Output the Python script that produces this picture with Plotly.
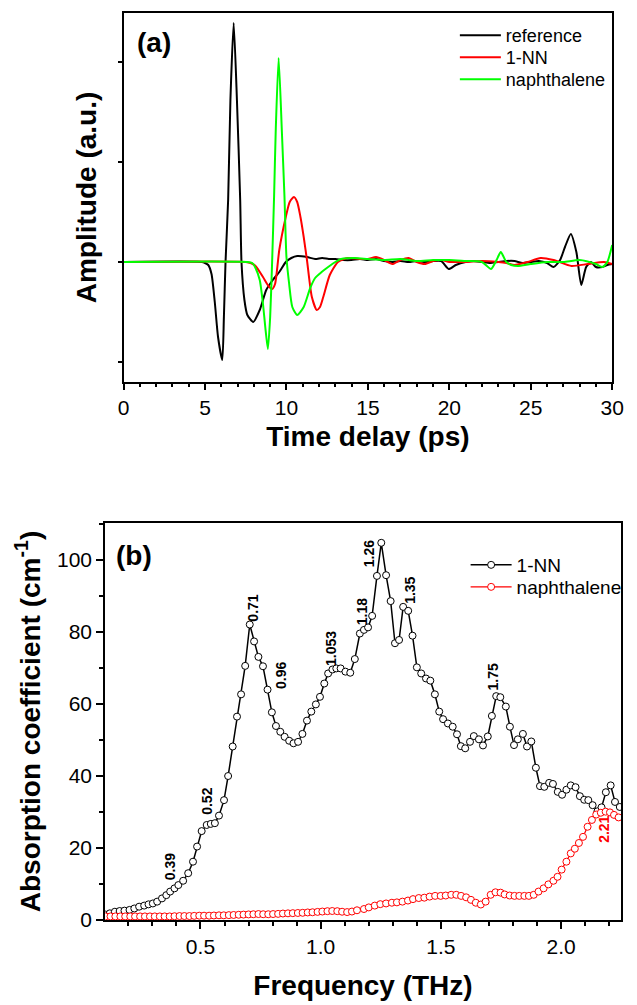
import plotly.graph_objects as go

# ---------------- Panel (a): time-domain waveforms ----------------
T_REF = [0, 4.8, 5.0, 5.2, 5.4, 5.6, 5.8, 6.06, 6.16, 6.26, 6.42, 6.56, 6.76, 6.96, 7.16, 7.24,
         7.42, 7.6, 7.96, 8.36, 8.76, 9.16, 9.56, 9.96, 10.3, 10.66, 11.26, 11.76, 12.2, 12.6,
         13.0, 13.5, 14.0, 14.5, 15.0, 15.5, 16.0, 16.5, 17.0, 17.5, 18.0, 18.5, 19.0, 19.5,
         19.96, 20.4, 21.0, 21.5, 22.0, 22.5, 23.0, 23.5, 24.0, 24.5, 25.0, 25.5, 26.0, 26.4,
         26.8, 27.1, 27.46, 27.8, 28.1, 28.4, 28.7, 29.0, 29.4, 29.7, 30.0]
A_REF = [0, 0, -0.01, -0.03, -0.12, -0.4, -0.75, -0.98, -0.55, 0.0, 0.62, 1.62, 2.39, 1.62, 0.62, 0.0,
         -0.38, -0.53, -0.6, -0.48, -0.28, -0.18, -0.1, 0.0, 0.04, 0.06, 0.05, 0.03, 0.04, 0.03,
         0.03, 0.02, 0.02, 0.03, 0.02, 0.03, 0.01, 0.0, 0.01, 0.0, 0.01, 0.0, 0.01, 0.01,
         -0.07, -0.03, 0.0, 0.01, 0.0, -0.01, 0.0, 0.01, 0.01, -0.01, 0.0, 0.01, -0.01, -0.05,
         0.02, 0.15, 0.28, 0.1, -0.23, -0.05, 0.0, -0.05, -0.05, -0.03, -0.02]

T_NN = [0, 7.5, 7.8, 8.1, 8.56, 8.9, 9.12, 9.3, 9.56, 9.96, 10.2, 10.46, 10.66, 10.86, 11.06,
        11.26, 11.56, 11.86, 12.06, 12.26, 12.66, 13.16, 13.76, 14.5, 15.0, 15.5, 16.0, 16.5,
        17.0, 17.5, 18.0, 18.5, 19.0, 19.5, 20.0, 20.5, 21.0, 22.0, 23.0, 23.5, 24.0, 24.8,
        25.6, 26.4, 27.5, 28.5, 29.5, 30.0]
A_NN = [0, 0, -0.01, -0.04, -0.15, -0.24, -0.27, -0.22, 0.12, 0.45, 0.6, 0.65, 0.6, 0.45, 0.25,
        0.02, -0.35, -0.48, -0.45, -0.35, -0.13, 0.0, 0.04, 0.03, 0.03, 0.05, 0.02, -0.02,
        0.02, 0.04, 0.0, -0.02, 0.01, 0.02, 0.0, 0.0, 0.0, 0.01, 0.0, -0.01, -0.03, 0.0,
        0.04, 0.02, -0.04, -0.02, 0.0, -0.02]

T_NAP = [0, 7.6, 7.9, 8.1, 8.36, 8.56, 8.7, 8.86, 9.0, 9.12, 9.24, 9.34, 9.52, 9.72, 9.88, 10.0,
         10.16, 10.36, 10.66, 11.06, 11.46, 11.76, 12.16, 12.56, 13.0, 13.36, 14.2, 15.0, 16.0,
         17.0, 18.0, 19.0, 20.0, 21.0, 22.0, 22.56, 22.9, 23.16, 23.5, 23.8, 24.2, 25.0, 26.0,
         27.0, 28.0, 29.0, 29.4, 29.7, 30.0]
A_NAP = [0, 0, -0.01, -0.06, -0.18, -0.42, -0.65, -0.87, -0.55, 0.0, 0.65, 1.3, 2.04, 1.3, 0.65, 0.05,
         -0.21, -0.45, -0.53, -0.45, -0.26, -0.16, -0.1, -0.05, 0.0, 0.03, 0.04, 0.03, 0.02,
         0.03, 0.01, 0.02, 0.02, 0.01, 0.0, -0.07, 0.02, 0.1, 0.0, -0.03, -0.04, -0.02, 0.0,
         0.0, 0.02, -0.02, -0.05, 0.0, 0.17]

# ---------------- Panel (b): absorption spectra ----------------
F_NN = [0.105, 0.123, 0.144, 0.164, 0.184, 0.205, 0.225, 0.245, 0.266, 0.284, 0.302, 0.320,
        0.340, 0.358, 0.374, 0.392, 0.408, 0.428, 0.449, 0.469, 0.486, 0.505, 0.526, 0.543,
        0.560, 0.577, 0.598, 0.615, 0.634, 0.652, 0.669, 0.686, 0.705, 0.723, 0.741, 0.760,
        0.779, 0.797, 0.814, 0.832, 0.850, 0.869, 0.887, 0.906, 0.924, 0.943, 0.961, 0.980,
        0.997, 1.015, 1.031, 1.049, 1.065, 1.083, 1.103, 1.123, 1.142, 1.163, 1.180, 1.197,
        1.214, 1.234, 1.252, 1.272, 1.291, 1.309, 1.326, 1.343, 1.364, 1.382, 1.400, 1.418,
        1.438, 1.456, 1.475, 1.493, 1.509, 1.529, 1.549, 1.567, 1.583, 1.601, 1.621, 1.637,
        1.658, 1.675, 1.695, 1.712, 1.730, 1.747, 1.770, 1.787, 1.804, 1.820, 1.841, 1.858,
        1.876, 1.895, 1.912, 1.930, 1.950, 1.966, 1.986, 2.004, 2.022, 2.040, 2.060, 2.078,
        2.096, 2.113, 2.131, 2.151, 2.168, 2.186, 2.206, 2.224, 2.244]
ALPHA_NN = [1.5, 1.85, 2.3, 2.5, 2.6, 2.8, 3.2, 3.7, 4.0, 4.35, 4.6, 5.1,
            6.0, 6.9, 7.9, 8.8, 9.7, 10.9, 13.0, 16.2, 20.4, 24.7, 26.4, 26.7,
            26.9, 29.0, 33.3, 40.0, 48.2, 56.5, 62.7, 70.6, 82.1, 77.4, 73.1, 70.5,
            64.0, 57.7, 53.9, 52.3, 50.9, 49.8, 49.1, 49.5, 51.7, 55.4, 57.9, 59.9,
            62.0, 65.7, 68.5, 69.6, 69.9, 69.9, 69.0, 68.7, 72.5, 79.6, 80.6, 81.3,
            84.5, 95.6, 104.8, 95.8, 88.6, 76.9, 77.8, 87.0, 85.9, 79.0, 70.2, 68.5,
            67.1, 66.5, 62.7, 57.9, 55.8, 54.6, 53.7, 51.6, 48.3, 47.7, 49.5, 51.1,
            50.2, 48.5, 51.0, 56.7, 62.2, 61.9, 59.3, 53.7, 48.6, 50.2, 51.7, 48.2,
            49.6, 42.3, 37.2, 37.0, 38.1, 37.8, 35.6, 34.8, 36.2, 37.4, 36.9, 34.4,
            33.4, 33.3, 31.9, 30.2, 31.3, 35.5, 37.4, 32.8, 31.4]

F_NAP = [0.105, 0.126, 0.146, 0.167, 0.187, 0.208, 0.228, 0.249, 0.269, 0.290, 0.310, 0.331,
         0.351, 0.372, 0.392, 0.413, 0.433, 0.454, 0.474, 0.495, 0.515, 0.536, 0.556, 0.577,
         0.597, 0.618, 0.638, 0.659, 0.679, 0.700, 0.720, 0.741, 0.761, 0.782, 0.802, 0.823,
         0.843, 0.864, 0.884, 0.905, 0.925, 0.946, 0.966, 0.987, 1.007, 1.028, 1.048, 1.069,
         1.089, 1.110, 1.130, 1.151,
         1.180, 1.200, 1.225, 1.248, 1.272, 1.296, 1.317, 1.340, 1.363, 1.384, 1.408, 1.431,
         1.453, 1.476, 1.499, 1.520, 1.543, 1.564, 1.584, 1.605, 1.625, 1.645, 1.666, 1.686,
         1.707, 1.727, 1.748, 1.765, 1.786, 1.806, 1.826, 1.847, 1.866, 1.886, 1.906, 1.927,
         1.947, 1.968, 1.985, 2.002, 2.022, 2.040, 2.057, 2.074, 2.091, 2.110, 2.128, 2.146,
         2.165, 2.185, 2.203, 2.220, 2.239]
ALPHA_NAP = [1.0, 1.0, 1.0, 1.0, 1.0, 1.0, 1.0, 1.0, 1.0, 1.0, 1.0, 1.0,
             1.0, 1.0, 1.05, 1.1, 1.1, 1.1, 1.15, 1.2, 1.2, 1.2, 1.25, 1.3,
             1.3, 1.35, 1.4, 1.45, 1.5, 1.55, 1.6, 1.65, 1.6, 1.6, 1.65, 1.7,
             1.8, 1.85, 1.9, 1.95, 2.0, 2.1, 2.15, 2.25, 2.35, 2.45, 2.5, 2.45,
             2.3, 2.2, 2.35, 2.7,
             3.05, 3.5, 4.0, 4.4, 4.6, 4.8, 4.9, 5.1, 5.4, 5.8, 6.1, 6.2,
             6.5, 6.7, 6.7, 6.8, 7.0, 7.0, 6.7, 6.3, 5.6, 4.8, 4.3, 5.1,
             7.0, 7.7, 7.6, 7.1, 6.8, 6.7, 6.7, 6.7, 6.7, 7.0, 7.9, 8.8,
             9.9, 10.9, 12.0, 14.0, 16.2, 18.5, 19.8, 21.4, 23.1, 25.9, 27.8, 29.3,
             29.8, 30.1, 29.9, 29.2, 28.5]

assert len(T_REF) == len(A_REF) and len(T_NN) == len(A_NN) and len(T_NAP) == len(A_NAP)
assert len(F_NN) == len(ALPHA_NN) and len(F_NAP) == len(ALPHA_NAP)

PEAK_TEXT = ["0.39", "0.52", "0.71", "0.96", "1.053", "1.18", "1.26", "1.35", "1.75", "2.21"]
PEAK_F = [0.374, 0.527, 0.72, 0.835, 1.042, 1.173, 1.202, 1.371, 1.717, 2.178]
PEAK_A = [14.7, 33.1, 86.6, 67.8, 75.5, 85.6, 101.7, 91.7, 67.4, 25.3]
PEAK_COLOR = ["black"] * 9 + ["#ff0000"]

FONT = "Liberation Sans, Arial, sans-serif"

L, R, T, B = 105, 4, 13, 85
W = 637 - L - R
H = 1005 - T - B


def px_x(p):
    return (p - L) / W


def px_y(p):
    return (1005 - B - p) / H


fig = go.Figure()
fig.add_trace(go.Scatter(x=T_REF, y=A_REF, mode="lines", name="reference",
                         line=dict(color="black", width=2, shape="spline", smoothing=0.6),
                         xaxis="x", yaxis="y", legend="legend"))
fig.add_trace(go.Scatter(x=T_NN, y=A_NN, mode="lines", name="1-NN",
                         line=dict(color="#ff0000", width=2, shape="spline", smoothing=0.6),
                         xaxis="x", yaxis="y", legend="legend3"))
fig.add_trace(go.Scatter(x=T_NAP, y=A_NAP, mode="lines", name="naphthalene",
                         line=dict(color="#00ff00", width=2, shape="spline", smoothing=0.6),
                         xaxis="x", yaxis="y", legend="legend4"))

fig.add_trace(go.Scatter(x=F_NN, y=ALPHA_NN, mode="lines+markers", name="1-NN",
                         line=dict(color="black", width=1.5),
                         marker=dict(symbol="circle", size=7, color="white",
                                     line=dict(color="black", width=1)),
                         xaxis="x2", yaxis="y2", legend="legend2"))
fig.add_trace(go.Scatter(x=F_NAP, y=ALPHA_NAP, mode="lines+markers", name="naphthalene",
                         line=dict(color="#ff0000", width=1.2),
                         marker=dict(symbol="circle", size=7, color="white",
                                     line=dict(color="#ff0000", width=1)),
                         xaxis="x2", yaxis="y2", legend="legend5"))

axis_common = dict(showline=True, linecolor="black", linewidth=1.5, mirror=True,
                   showgrid=False, zeroline=False, ticks="outside", tickcolor="black",
                   tickwidth=1.5, tickfont=dict(family=FONT, size=21, color="black"))


def leg(xp, yp, size):
    return dict(x=px_x(xp), y=px_y(yp), xanchor="left", yanchor="top",
                bgcolor="rgba(0,0,0,0)", font=dict(family=FONT, size=size, color="black"),
                tracegroupgap=0, itemwidth=41)


fig.update_layout(
    width=637, height=1005,
    margin=dict(l=L, r=R, t=T, b=B),
    paper_bgcolor="white", plot_bgcolor="white",
    font=dict(family=FONT, color="black"),
    xaxis=dict(domain=[px_x(124), px_x(624)], anchor="y", range=[0, 30],
               tickvals=[0, 5, 10, 15, 20, 25, 30], ticklen=6,
               minor=dict(dtick=1, ticklen=3, ticks="outside", tickcolor="black", tickwidth=1.5),
               title=dict(text="Time delay (ps)", standoff=8,
                          font=dict(family=FONT, size=28, weight="bold")),
               **axis_common),
    yaxis=dict(domain=[px_y(382), px_y(13)], anchor="x", range=[-1.2, 2.49],
               tickvals=[-1, 0, 1, 2], ticklen=4, showticklabels=False,
               title=dict(text="Amplitude (a.u.)", standoff=13,
                          font=dict(family=FONT, size=28, weight="bold")),
               **axis_common),
    xaxis2=dict(domain=[px_x(105), px_x(633)], anchor="y2", range=[0.103, 2.249],
                tickvals=[0.5, 1.0, 1.5, 2.0], ticktext=["0.5", "1.0", "1.5", "2.0"], ticklen=7,
                minor=dict(dtick=0.1, tick0=0, ticklen=4, ticks="outside", tickcolor="black", tickwidth=1.5),
                title=dict(text="Frequency (THz)", standoff=18,
                           font=dict(family=FONT, size=28, weight="bold")),
                **axis_common),
    yaxis2=dict(domain=[px_y(920), px_y(523)], anchor="x2", range=[0, 110.3],
                tickvals=[0, 20, 40, 60, 80, 100], ticklen=7,
                minor=dict(dtick=10, ticklen=4, ticks="outside", tickcolor="black", tickwidth=1.5),
                title=dict(text="Absorption coefficient (cm<sup>-1</sup>)", standoff=8,
                           font=dict(family=FONT, size=28, weight="bold")),
                **axis_common),
    legend=leg(463, 17, 18),
    legend3=leg(463, 39, 18),
    legend4=leg(463, 61, 18),
    legend2=leg(474, 546, 19),
    legend5=leg(474, 568, 19),
    showlegend=True,
)

annotations = [
    dict(text="<b>(a)</b>", x=px_x(155), y=px_y(42), xref="paper", yref="paper",
         showarrow=False, xanchor="center", yanchor="middle",
         font=dict(family=FONT, size=28, color="black")),
    dict(text="<b>(b)</b>", x=px_x(135), y=px_y(555), xref="paper", yref="paper",
         showarrow=False, xanchor="center", yanchor="middle",
         font=dict(family=FONT, size=28, color="black")),
]
for txt, fx, fy, col in zip(PEAK_TEXT, PEAK_F, PEAK_A, PEAK_COLOR):
    annotations.append(dict(text="<b>" + txt + "</b>", x=fx, y=fy, xref="x2", yref="y2",
                            showarrow=False, textangle=-90, xanchor="center", yanchor="middle",
                            font=dict(family=FONT, size=14, color=col)))
fig.update_layout(annotations=annotations)

fig.write_html("out.html", config={"displayModeBar": False},
               post_script="document.body.style.margin='0';document.body.style.overflow='hidden';")
